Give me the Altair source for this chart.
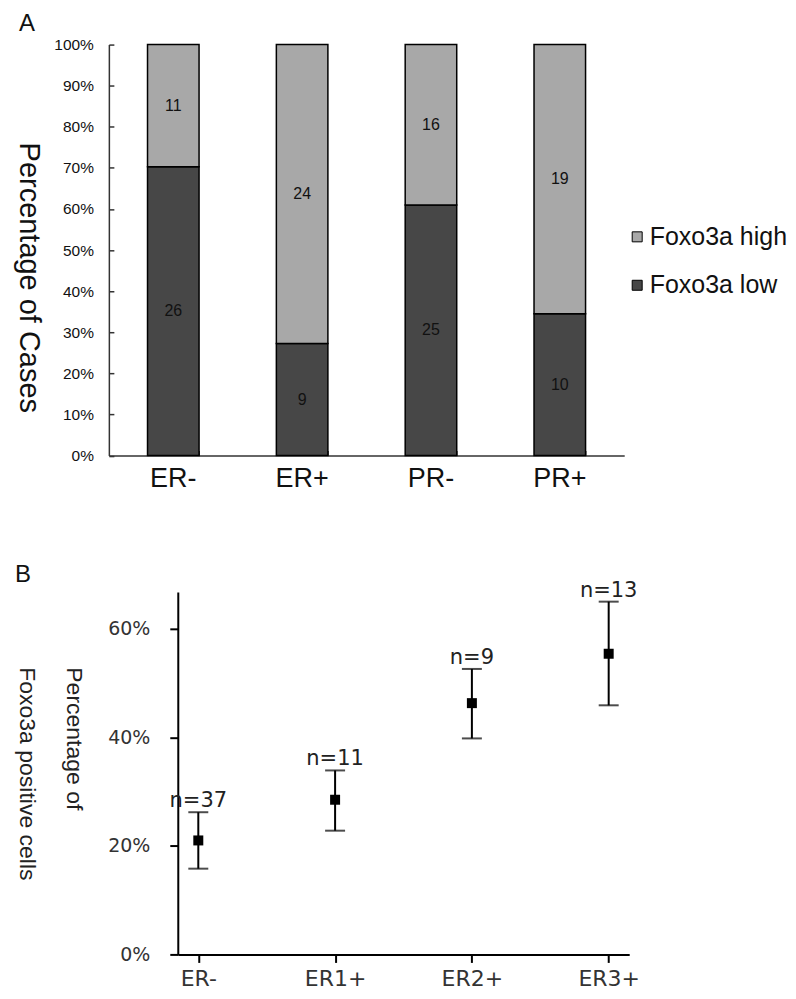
import altair as alt
import pandas as pd

# ---------- Panel A data ----------
groups = ["ER-", "ER+", "PR-", "PR+"]
low_counts = [26, 9, 25, 10]
high_counts = [11, 24, 16, 19]
series = ["Foxo3a high", "Foxo3a low"]
bar_colors = ["#a8a8a8", "#474747"]
pct_ticks = [0, 0.1, 0.2, 0.3, 0.4, 0.5, 0.6, 0.7, 0.8, 0.9, 1.0]

# ---------- Panel B data ----------
er_groups = ["ER-", "ER1+", "ER2+", "ER3+"]
er_means = [0.210, 0.285, 0.463, 0.554]
er_upper = [0.262, 0.339, 0.526, 0.650]
er_lower = [0.158, 0.228, 0.398, 0.459]
er_n = [37, 11, 9, 13]
b_ticks = [0, 0.2, 0.4, 0.6]

rows = []
for g, lo, hi in zip(groups, low_counts, high_counts):
    tot = lo + hi
    rows.append({"group": g, "series": "Foxo3a low", "count": lo, "y0": 0.0, "y1": lo / tot})
    rows.append({"group": g, "series": "Foxo3a high", "count": hi, "y0": lo / tot, "y1": 1.0})
dfa = pd.DataFrame(rows)
dfa["mid"] = (dfa["y0"] + dfa["y1"]) / 2

dfb = pd.DataFrame({
    "group": er_groups,
    "mean": er_means,
    "hi": er_upper,
    "lo": er_lower,
    "label": ["n=%d" % n for n in er_n],
})

FA = "Liberation Sans"
FB = "DejaVu Sans"
WA, HA = 516, 411.5
SHIFT_B = 69          # panel B's y axis sits this far right of panel A's
WB, HB = 452, 363

xA = alt.X("group:N", sort=groups,
           scale=alt.Scale(paddingInner=0.6, paddingOuter=0.3),
           axis=alt.Axis(title=None, labelAngle=0, ticks=False, labelFontSize=27,
                         labelFont=FA, labelPadding=10, labelColor="#111",
                         domainColor="#333", domainWidth=1.5))

bars = alt.Chart(dfa).mark_bar(stroke="black", strokeWidth=1.5).encode(
    x=xA,
    y=alt.Y("y1:Q", scale=alt.Scale(domain=[0, 1], nice=False),
            axis=alt.Axis(format=".0%", values=pct_ticks, ticks=False, labelPadding=15.5,
                          labelFontSize=15.5, labelFont=FA, labelColor="#111",
                          domainColor="#333", domainWidth=1.5, grid=False,
                          title="Percentage of Cases", titleAngle=90, titleFontSize=29,
                          titleFont=FA, titleFontWeight="normal", titleColor="#111",
                          titleX=-80, titleY=233, titleAlign="center", titleBaseline="middle")),
    y2="y0",
    color=alt.Color("series:N", scale=alt.Scale(domain=series, range=bar_colors),
                    legend=alt.Legend(title=None, orient="none", legendX=516.5, legendY=180,
                                      symbolType="square", symbolSize=100,
                                      symbolStrokeColor="black", symbolStrokeWidth=1,
                                      labelFontSize=25, labelFont=FA, labelColor="#111",
                                      rowPadding=22.5, labelOffset=0)),
)

texts = alt.Chart(dfa).mark_text(fontSize=16, font=FA, color="#111").encode(
    x=alt.X("group:N", sort=groups,
            axis=alt.Axis(orient="top", offset=-HA, labels=False, domain=False, ticks=True,
                          tickSize=5, tickBand="extent", tickColor="#333", tickWidth=1.5,
                          title=None)),
    y=alt.Y("mid:Q",
            axis=alt.Axis(orient="right", offset=-WA, labels=False, domain=False, ticks=True,
                          tickSize=5, values=pct_ticks, tickColor="#333", tickWidth=1.5,
                          title=None, grid=False)),
    text="count:Q",
)

panelA = alt.layer(bars, texts).resolve_axis(x="independent", y="independent").properties(
    width=WA, height=HA,
    title=alt.TitleParams("A", anchor="start", frame="bounds", fontSize=24,
                          fontWeight="normal", font=FA, dx=5, offset=2, color="#111"),
)

xB = alt.X("group:N", sort=er_groups,
           scale=alt.Scale(type="point", padding=0.15, range=[SHIFT_B, SHIFT_B + WB]),
           axis=alt.Axis(title=None, labelAngle=0, labelFontSize=22, labelFont=FB,
                         labelColor="#333", tickSize=8, tickWidth=2, tickColor="black",
                         domainWidth=2, domainColor="black", labelPadding=6))

yB_axis = alt.Axis(format=".0%", values=b_ticks, tickSize=8, tickWidth=2, tickColor="black",
                   domainWidth=2, domainColor="black", labelPadding=20, labelFontSize=19,
                   labelFont=FB, labelColor="#333", grid=False, offset=-SHIFT_B,
                   title=["Percentage of", "Foxo3a positive cells"], titleAngle=90,
                   titleFontSize=23, titleFont=FA, titleFontWeight="normal",
                   titleColor="#222", titleLineHeight=47, titleAlign="left",
                   titleBaseline="middle", titleX=-104, titleY=75)
yB_scale = alt.Scale(domain=[0, 0.668], nice=False)

baseB = alt.Chart(dfb).encode(x=xB)
rules = baseB.mark_rule(strokeWidth=2, color="black").encode(
    y=alt.Y("lo:Q", scale=yB_scale, axis=yB_axis), y2="hi:Q")
cap_hi = baseB.mark_tick(size=20, thickness=2, color="black", orient="horizontal").encode(
    y=alt.Y("hi:Q"))
cap_lo = baseB.mark_tick(size=20, thickness=2, color="black", orient="horizontal").encode(
    y=alt.Y("lo:Q"))
pts = baseB.mark_square(size=100, color="black", opacity=1).encode(y=alt.Y("mean:Q"))
nlab = baseB.mark_text(baseline="alphabetic", dy=-5, fontSize=21, font=FB, color="#222").encode(
    y=alt.Y("hi:Q"), text="label:N")

panelB = alt.layer(rules, cap_hi, cap_lo, pts, nlab).properties(
    width=SHIFT_B + WB, height=HB,
    title=alt.TitleParams("B", anchor="start", frame="bounds", fontSize=24,
                          fontWeight="normal", font=FA, dx=0, dy=7, offset=0, color="#111"),
)

chart = alt.vconcat(panelA, panelB, spacing=70).properties(
    padding={"left": 6, "top": 3, "right": 0, "bottom": 0}
).configure_view(stroke=None)

chart.save("out.html", embed_options={"renderer": "svg", "actions": False})
